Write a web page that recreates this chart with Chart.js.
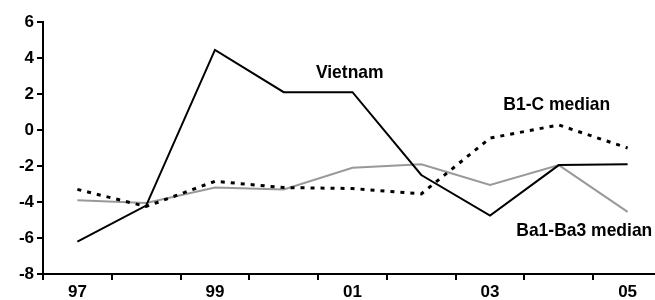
<!DOCTYPE html>
<html>
<head>
<meta charset="utf-8">
<script src="https://cdn.jsdelivr.net/npm/chart.js@4.4.1/dist/chart.umd.min.js"></script>
<style>
  html, body { margin: 0; padding: 0; overflow: hidden; background: #fff; }
</style>
</head>
<body>
<canvas id="chart" width="670" height="300"></canvas>
<script>
// data
var years = ['97', '98', '99', '00', '01', '02', '03', '04', '05'];
var vietnam = [-6.2, -4.2, 4.45, 2.1, 2.1, -2.5, -4.75, -1.95, -1.9];
var b1cMedian = [-3.3, -4.25, -2.85, -3.2, -3.25, -3.55, -0.45, 0.28, -1.0];
var ba1Ba3Median = [-3.9, -4.05, -3.2, -3.3, -2.1, -1.9, -3.05, -1.95, -4.55];
var yMin = -8, yMax = 6, yStep = 2;

var FONT = '"Liberation Sans Narrow", "Arial Narrow", "Liberation Sans", Arial, sans-serif';

// series names written straight on the plot (slightly condensed, like the original)
var seriesNotes = {
    id: 'seriesNotes',
    afterDatasetsDraw: function (chart, args, opts) {
        var ctx = chart.ctx;
        var xs = chart.scales.x, ys = chart.scales.y;
        opts.notes.forEach(function (n) {
            ctx.save();
            ctx.font = 'bold 19px ' + FONT;
            ctx.fillStyle = '#000';
            ctx.textAlign = 'center';
            ctx.textBaseline = 'middle';
            ctx.translate(xs.getPixelForValue(n.x), ys.getPixelForValue(n.y));
            ctx.scale(0.92, 1);
            ctx.fillText(n.text, 0, 0);
            ctx.restore();
        });
    }
};

var ctx = document.getElementById('chart').getContext('2d');
var myChart = new Chart(ctx, {
    type: 'line',
    data: {
        labels: years,
        datasets: [{
            label: 'Vietnam',
            data: vietnam,
            borderColor: '#000',
            borderWidth: 2,
            pointRadius: 0,
            tension: 0
        }, {
            label: 'B1-C median',
            data: b1cMedian,
            borderColor: '#000',
            borderWidth: 3,
            borderDash: [4, 6],
            pointRadius: 0,
            tension: 0
        }, {
            label: 'Ba1-Ba3 median',
            data: ba1Ba3Median,
            borderColor: '#999',
            borderWidth: 2,
            pointRadius: 0,
            tension: 0
        }]
    },
    options: {
        responsive: false,
        animation: false,
        layout: { padding: { top: 22, right: 8, left: 0, bottom: 0 } },
        plugins: {
            legend: { display: false },
            tooltip: { enabled: false },
            seriesNotes: {
                notes: [
                    { text: 'Vietnam', x: 3.96, y: 3.2 },
                    { text: 'B1-C median', x: 6.97, y: 1.4 },
                    { text: 'Ba1-Ba3 median', x: 7.37, y: -5.6 }
                ]
            }
        },
        scales: {
            x: {
                offset: true,
                border: { color: '#000', width: 2 },
                grid: { offset: true, drawOnChartArea: false, drawTicks: true, tickLength: 6, color: '#000', lineWidth: 2 },
                ticks: {
                    autoSkip: false,
                    maxRotation: 0,
                    color: '#000',
                    padding: 2,
                    font: { family: FONT, size: 17, weight: 'bold' },
                    callback: function (v, i) { return i % 2 === 0 ? this.getLabelForValue(v) : ''; }
                },
                afterFit: function (s) { s.height = 26; }
            },
            y: {
                min: yMin,
                max: yMax,
                border: { color: '#000', width: 2 },
                grid: { drawOnChartArea: false, drawTicks: true, tickLength: 6, color: '#000', lineWidth: 2 },
                ticks: {
                    stepSize: yStep,
                    color: '#000',
                    padding: 3,
                    font: { family: FONT, size: 17, weight: 'bold' }
                },
                afterFit: function (s) { s.width = 43; }
            }
        }
    },
    plugins: [seriesNotes]
});
</script>
</body>
</html>
